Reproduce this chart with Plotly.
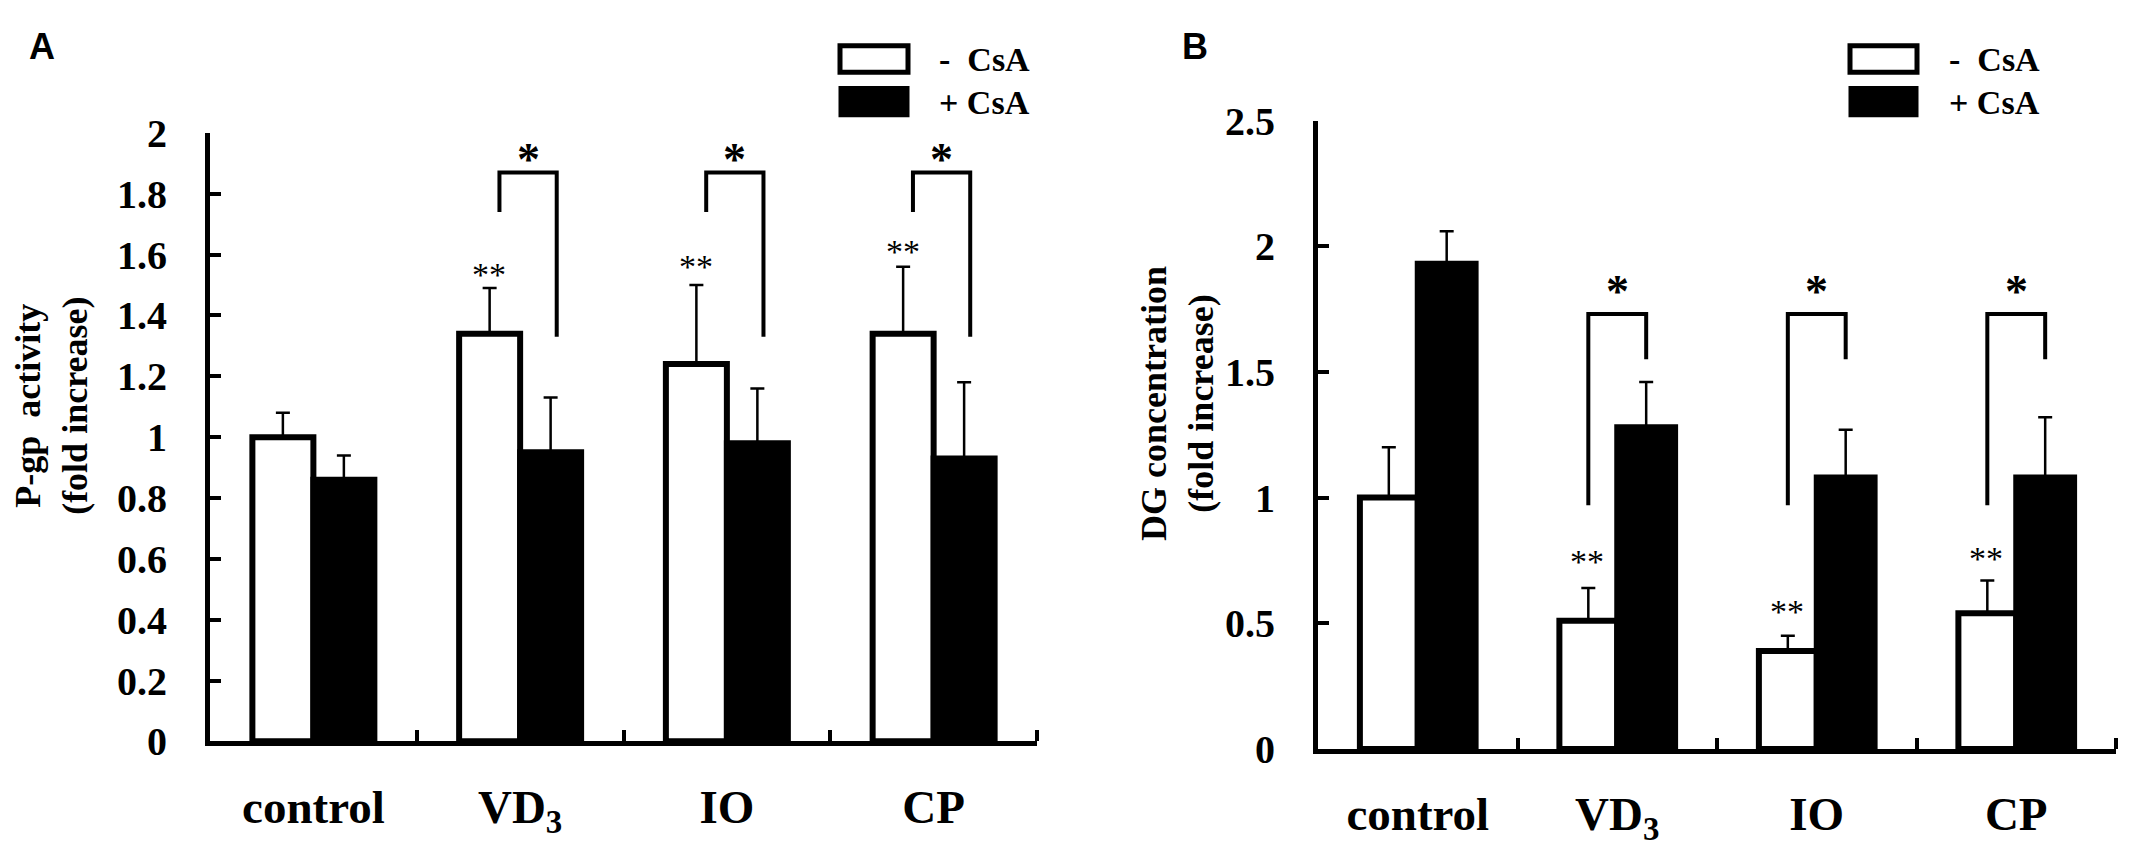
import plotly.graph_objects as go

# categories and values
categories = ["control", "VD<sub>3</sub>", "IO", "CP"]

pgp_minus = [1.00, 1.34, 1.24, 1.34]
pgp_minus_top = [1.08, 1.49, 1.50, 1.56]
pgp_plus = [0.86, 0.95, 0.98, 0.93]
pgp_plus_top = [0.94, 1.13, 1.16, 1.18]
pgp_ticks = [0, 0.2, 0.4, 0.6, 0.8, 1, 1.2, 1.4, 1.6, 1.8, 2]
pgp_ticktext = ["0", "0.2", "0.4", "0.6", "0.8", "1", "1.2", "1.4", "1.6", "1.8", "2"]
pgp_bracket_top = [1.87, 1.87, 1.87]
pgp_bracket_left = [1.74, 1.74, 1.74]
pgp_bracket_right = [1.33, 1.33, 1.33]
pgp_star_y = [1.94, 1.94, 1.94]
pgp_dstar_y = [1.555, 1.58, 1.63]

dg_minus = [1.00, 0.51, 0.39, 0.54]
dg_minus_top = [1.20, 0.64, 0.45, 0.67]
dg_plus = [1.93, 1.28, 1.08, 1.08]
dg_plus_top = [2.06, 1.46, 1.27, 1.32]
dg_ticks = [0, 0.5, 1, 1.5, 2, 2.5]
dg_ticktext = ["0", "0.5", "1", "1.5", "2", "2.5"]
dg_bracket_top = [1.73, 1.73, 1.73]
dg_bracket_left = [0.97, 0.97, 0.97]
dg_bracket_right = [1.55, 1.55, 1.55]
dg_star_y = [1.85, 1.85, 1.85]
dg_dstar_y = [0.77, 0.57, 0.78]

W, H = 2138, 862
SERIF = "Liberation Serif"
SANS = "Liberation Sans"


def px_x(v):
    return v / W


def px_y(v):
    return 1 - v / H


xs = list(range(len(categories)))
fig = go.Figure()


def add_panel(fig, xa, ya, minus, minus_top, plus, plus_top, bw):
    fig.add_trace(go.Bar(
        x=xs, y=minus, width=bw, offset=-bw, xaxis=xa, yaxis=ya,
        marker=dict(color="white", line=dict(color="black", width=6)),
        error_y=dict(type="data", symmetric=False,
                     array=[t - v for t, v in zip(minus_top, minus)],
                     arrayminus=[0] * len(minus),
                     color="black", thickness=2.5, width=7),
        name="- CsA", showlegend=False))
    fig.add_trace(go.Bar(
        x=xs, y=plus, width=bw, offset=0, xaxis=xa, yaxis=ya,
        marker=dict(color="black", line=dict(color="black", width=6)),
        error_y=dict(type="data", symmetric=False,
                     array=[t - v for t, v in zip(plus_top, plus)],
                     arrayminus=[0] * len(plus),
                     color="black", thickness=2.5, width=7),
        name="+ CsA", showlegend=False))


add_panel(fig, "x", "y", pgp_minus, pgp_minus_top, pgp_plus, pgp_plus_top, 0.295)
add_panel(fig, "x2", "y2", dg_minus, dg_minus_top, dg_plus, dg_plus_top, 0.29)


def add_brackets(fig, xr, yr, tops, lefts, rights, stars, dstars, lx, rx):
    for k, (t, l, r) in enumerate(zip(tops, lefts, rights)):
        i = k + 1
        fig.add_shape(type="path", xref=xr, yref=yr,
                      path=f"M {i + lx},{l} L {i + lx},{t} L {i + rx},{t} L {i + rx},{r}",
                      line=dict(color="black", width=4))
        fig.add_annotation(x=i + (lx + rx) / 2, y=stars[k], xref=xr, yref=yr,
                           text="*", showarrow=False, yshift=-8,
                           xanchor="center", yanchor="middle",
                           font=dict(family=SERIF, size=46, color="black", weight="bold"))
        fig.add_annotation(x=i - 0.15, y=dstars[k], xref=xr, yref=yr,
                           text="**", showarrow=False, yshift=-6,
                           xanchor="center", yanchor="middle",
                           font=dict(family=SERIF, size=34, color="black"))


add_brackets(fig, "x", "y", pgp_bracket_top, pgp_bracket_left, pgp_bracket_right,
             pgp_star_y, pgp_dstar_y, -0.10, 0.177)
add_brackets(fig, "x2", "y2", dg_bracket_top, dg_bracket_left, dg_bracket_right,
             dg_star_y, dg_dstar_y, -0.145, 0.145)

tick_font = dict(family=SERIF, size=40, color="black", weight="bold")
cat_font = dict(family=SERIF, size=47, color="black", weight="bold")

xaxis_common = dict(
    range=[-0.5, 3.5], tickmode="array", tickvals=xs, ticktext=categories,
    ticks="", showline=True, linecolor="black", linewidth=5, showgrid=False,
    zeroline=False, tickfont=cat_font, ticklabelstandoff=20,
    minor=dict(tickmode="array", tickvals=[0.5, 1.5, 2.5, 3.5], ticks="inside",
               ticklen=11, tickwidth=4, tickcolor="black", showgrid=False),
)
yaxis_common = dict(
    showline=True, linecolor="black", linewidth=5, showgrid=False, zeroline=False,
    ticks="inside", ticklen=11, tickwidth=4, tickcolor="black", tickfont=tick_font,
    ticklabelstandoff=30, tickmode="array",
)

fig.update_layout(
    width=W, height=H, margin=dict(l=0, r=0, t=0, b=0),
    paper_bgcolor="white", plot_bgcolor="white", barmode="overlay",
    showlegend=False,
    xaxis=dict(domain=[px_x(210), px_x(1037)], anchor="y", **xaxis_common),
    yaxis=dict(domain=[px_y(759), px_y(117)], anchor="x", range=[0, 2],
               tickvals=pgp_ticks, ticktext=pgp_ticktext, **yaxis_common),
    xaxis2=dict(domain=[px_x(1318), px_x(2116)], anchor="y2", **xaxis_common),
    yaxis2=dict(domain=[px_y(767), px_y(104)], anchor="x2", range=[0, 2.5],
                tickvals=dg_ticks, ticktext=dg_ticktext, **yaxis_common),
)

# y titles
title_font = dict(family=SERIF, size=36, color="black", weight="bold")
fig.add_annotation(x=px_x(52), y=px_y(405), xref="paper", yref="paper",
                   text="P-gp\u00a0 activity<br>(fold increase)", textangle=-90,
                   xanchor="center", yanchor="middle",
                   showarrow=False, font=title_font)
fig.add_annotation(x=px_x(1178), y=px_y(403), xref="paper", yref="paper",
                   text="DG concentration<br>(fold increase)", textangle=-90,
                   xanchor="center", yanchor="middle",
                   showarrow=False, font=title_font)

# panel letters
for letter, cx in (("A", 42), ("B", 1195)):
    fig.add_annotation(x=px_x(cx), y=px_y(26), xref="paper", yref="paper",
                       text=letter, showarrow=False,
                       xanchor="center", yanchor="middle",
                       font=dict(family=SANS, size=36, color="black", weight="bold"))

# legends drawn by hand (large rectangular keys)
legend_font = dict(family=SERIF, size=34, color="black", weight="bold")
for bx0, bx1, tx in ((840, 908, 1032), (1850, 1917, 2042)):
    fig.add_shape(type="rect", xref="paper", yref="paper",
                  x0=px_x(bx0), x1=px_x(bx1), y0=px_y(53), y1=px_y(25),
                  fillcolor="white", line=dict(color="black", width=5))
    fig.add_shape(type="rect", xref="paper", yref="paper",
                  x0=px_x(bx0), x1=px_x(bx1), y0=px_y(99), y1=px_y(69),
                  fillcolor="black", line=dict(color="black", width=3))
    fig.add_annotation(x=px_x(tx), y=px_y(40), xref="paper", yref="paper",
                       text="-  CsA", showarrow=False, xanchor="right",
                       yanchor="middle", font=legend_font)
    fig.add_annotation(x=px_x(tx), y=px_y(85), xref="paper", yref="paper",
                       text="+ CsA", showarrow=False, xanchor="right",
                       yanchor="middle", font=legend_font)

fig.write_html("out.html", config={"displayModeBar": False},
               post_script="document.body.style.margin='0';")
